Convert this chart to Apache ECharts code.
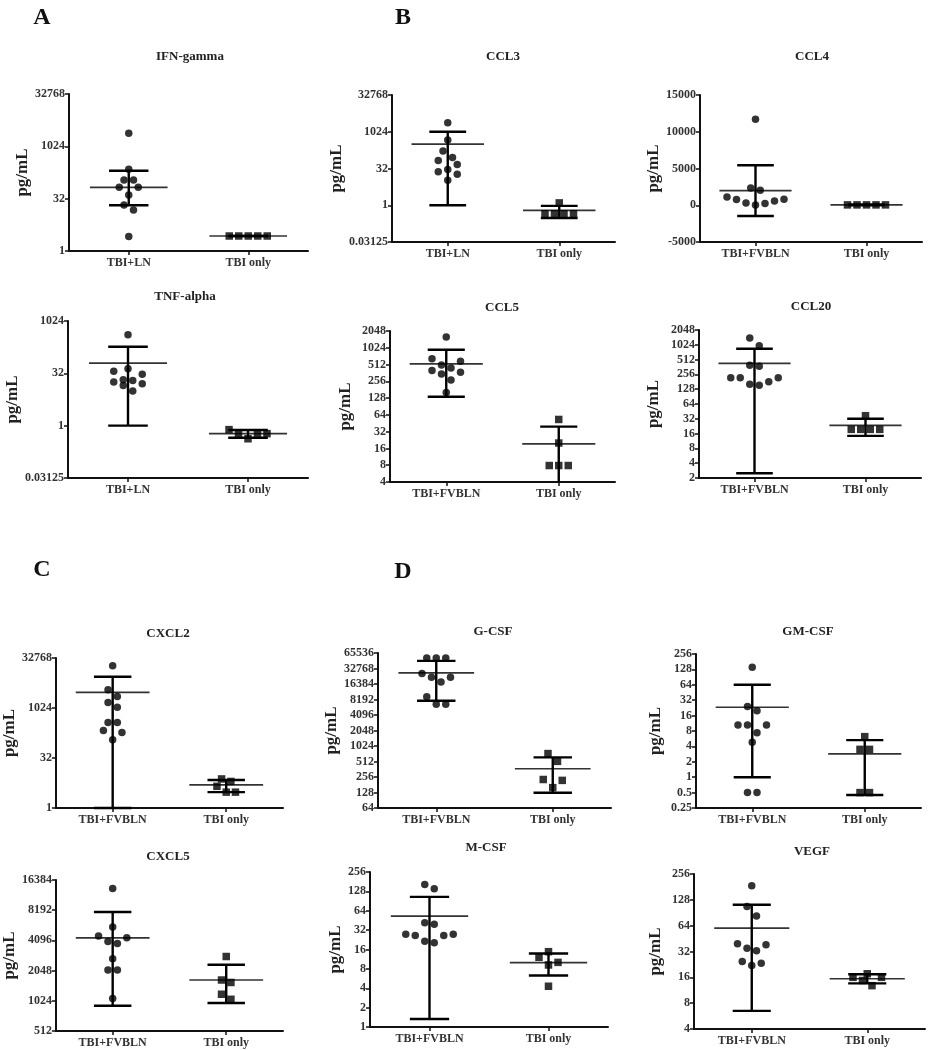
<!DOCTYPE html>
<html>
<head>
<meta charset="utf-8">
<script src="https://cdn.jsdelivr.net/npm/echarts@6/dist/echarts.min.js"></script>
<style>
  html, body { margin: 0; padding: 0; background: #fff; }
  #main { width: 931px; height: 1050px; }
</style>
</head>
<body>
<div id="main"></div>
<script>
// group names
const groupLN = 'TBI+LN';
const groupFV = 'TBI+FVBLN';
const groupTBI = 'TBI only';

// values, pg/mL ; bars = [mean, lower, upper] per group
const ifnLN = [2420, 223, 110, 110, 68, 68, 41, 21, 15, 2.6];
const ifnTBI = [2.7, 2.7, 2.7, 2.7, 2.7];
const ifnBars = [[68, 20.6, 204], [2.7, 2.7, 2.7]];
const ifnTicks = [1, 32, 1024, 32768];

const tnfLN = [413, 43, 37, 30, 21, 20, 18, 16, 14.4, 9.9];
const tnfTBI = [0.77, 0.59, 0.59, 0.59, 0.42];
const tnfBars = [[63, 1, 187], [0.59, 0.45, 0.75]];
const tnfTicks = [0.03125, 1, 32, 1024];

const ccl3LN = [2400, 467, 165, 91, 68, 47, 29, 23.4, 18.7, 10.6];
const ccl3TBI = [1.25, 0.45, 0.45, 0.45, 0.45];
const ccl3Bars = [[320, 1, 1024], [0.62, 0.3, 0.94]];
const ccl3Ticks = [0.03125, 1, 32, 1024, 32768];

const ccl4FV = [11700, 2360, 2050, 1130, 780, 590, 820, 320, 250, 50];
const ccl4TBI = [50, 50, 50, 50, 50];
const ccl4Bars = [[2000, -1460, 5450], [50, 0, 100]];
const ccl4Ticks = [-5000, 0, 5000, 10000, 15000];

const ccl5FV = [1595, 648, 588, 505, 446, 400, 372, 347, 271, 162];
const ccl5TBI = [53, 20, 7.9, 7.9, 7.9];
const ccl5Bars = [[525, 135, 942], [19.4, -0.2, 39.4]];
const ccl5Ticks = [4, 8, 16, 32, 64, 128, 256, 512, 1024, 2048];

const ccl20FV = [1400, 977, 393, 375, 219, 219, 219, 182, 161, 154];
const ccl20TBI = [37, 19.5, 19.5, 19.5, 19.5];
const ccl20Bars = [[431, 2.5, 850], [23.5, 14.4, 32]];
const ccl20Ticks = [2, 4, 8, 16, 32, 64, 128, 256, 512, 1024, 2048];

const cxcl2FV = [19200, 3640, 2290, 1510, 1070, 377, 377, 217, 189, 114];
const cxcl2TBI = [7.5, 6.3, 4.5, 3.0, 3.0];
const cxcl2Bars = [[3020, 1, 8960], [5.0, 3.0, 7.0]];
const cxcl2Ticks = [1, 32, 1024, 32768];

const cxcl5FV = [13500, 5560, 4520, 4350, 4000, 3820, 2690, 2080, 2080, 1080];
const cxcl5TBI = [2830, 1650, 1560, 1190, 1060];
const cxcl5Bars = [[4350, 913, 7870], [1650, 975, 2340]];
const cxcl5Ticks = [512, 1024, 2048, 4096, 8192, 16384];

const gcsfFV = [52400, 52400, 52400, 26200, 22200, 22200, 18000, 9300, 6600, 6600];
const gcsfTBI = [730, 515, 229, 220, 159];
const gcsfBars = [[27000, 7750, 46000], [370, 127, 617]];
const gcsfTicks = [64, 128, 256, 512, 1024, 2048, 4096, 8192, 16384, 32768, 65536];

const gmcsfFV = [141, 24, 19.8, 10.5, 10.5, 10.5, 7.4, 4.8, 0.5, 0.5];
const gmcsfTBI = [6.2, 3.5, 3.5, 0.5, 0.5];
const gmcsfBars = [[23.3, 1, 64], [2.85, 0.45, 5.3]];
const gmcsfTicks = [0.25, 0.5, 1, 2, 4, 8, 16, 32, 64, 128, 256];

const mcsfFV = [163, 140, 41.6, 39.5, 27.5, 27.5, 26.5, 26.5, 21.4, 20.4];
const mcsfTBI = [14.8, 12.1, 10.1, 9.2, 4.3];
const mcsfBars = [[52.7, 1.33, 105], [10, 6.3, 13.9]];
const mcsfTicks = [1, 2, 4, 8, 16, 32, 64, 128, 256];

const vegfFV = [187, 107, 83, 39.4, 38.3, 35, 32.6, 24.5, 23.4, 22];
const vegfTBI = [17.6, 16, 16, 14.7, 12.8];
const vegfBars = [[60, 6.5, 112], [15.4, 13.6, 17.4]];
const vegfTicks = [4, 8, 16, 32, 64, 128, 256];

const panels = [
  { title: 'IFN-gamma', g1: groupLN, a: ifnLN, b: ifnTBI, bars: ifnBars, ticks: ifnTicks, log: true },
  { title: 'TNF-alpha', g1: groupLN, a: tnfLN, b: tnfTBI, bars: tnfBars, ticks: tnfTicks, log: true },
  { title: 'CCL3', g1: groupLN, a: ccl3LN, b: ccl3TBI, bars: ccl3Bars, ticks: ccl3Ticks, log: true },
  { title: 'CCL4', g1: groupFV, a: ccl4FV, b: ccl4TBI, bars: ccl4Bars, ticks: ccl4Ticks, log: false },
  { title: 'CCL5', g1: groupFV, a: ccl5FV, b: ccl5TBI, bars: ccl5Bars, ticks: ccl5Ticks, log: true },
  { title: 'CCL20', g1: groupFV, a: ccl20FV, b: ccl20TBI, bars: ccl20Bars, ticks: ccl20Ticks, log: true },
  { title: 'CXCL2', g1: groupFV, a: cxcl2FV, b: cxcl2TBI, bars: cxcl2Bars, ticks: cxcl2Ticks, log: true },
  { title: 'CXCL5', g1: groupFV, a: cxcl5FV, b: cxcl5TBI, bars: cxcl5Bars, ticks: cxcl5Ticks, log: true },
  { title: 'G-CSF', g1: groupFV, a: gcsfFV, b: gcsfTBI, bars: gcsfBars, ticks: gcsfTicks, log: true },
  { title: 'GM-CSF', g1: groupFV, a: gmcsfFV, b: gmcsfTBI, bars: gmcsfBars, ticks: gmcsfTicks, log: true },
  { title: 'M-CSF', g1: groupFV, a: mcsfFV, b: mcsfTBI, bars: mcsfBars, ticks: mcsfTicks, log: true },
  { title: 'VEGF', g1: groupFV, a: vegfFV, b: vegfTBI, bars: vegfBars, ticks: vegfTicks, log: true }
];

// left, top, width, height, title x, title y, y-name gap
const layout = [
  [69, 94, 239, 157, 190, 57, 27],
  [68, 321, 240, 157, 185, 297, 46],
  [392, 95, 223, 147, 503, 57, 32],
  [700, 95, 222, 147, 812, 57, 36],
  [390, 331, 225, 151, 502, 308, 36],
  [699, 330, 222, 148, 811, 307, 37],
  [50, 658, 233, 150, 168, 634, 29],
  [54, 880, 229, 151, 168, 857, 33],
  [378, 653, 233, 155, 493, 632, 30],
  [696, 654, 225, 154, 808, 632, 32],
  [370, 872, 238, 155, 486, 848, 25],
  [694, 874, 231, 155, 812, 852, 30]
];

const letters = [['A', 42, 18], ['B', 403, 18], ['C', 42, 570], ['D', 403, 572]];

const FONT = '"Liberation Serif", "Times New Roman", serif';
const SYM = 7.5;    // marker size px
const SLOT = 9.5;   // horizontal spacing between side-by-side markers
const ROW_H = 9.5;  // markers closer than this (vertically) share a row
const MEAN_HALF = 0.65;  // in x units (4 units across the axis)
const CAP_HALF = 0.33;

// place points of one group in rows, spreading them sideways like a dot plot
function swarm(vals, toPx, center, unitPx) {
  const idx = vals.map((v, i) => i).sort((p, q) => vals[p] - vals[q]);
  const rows = [];
  idx.forEach(i => {
    const p = toPx(vals[i]);
    const row = rows[rows.length - 1];
    if (row && p - row.start <= ROW_H) row.items.push(i);
    else rows.push({ start: p, items: [i] });
  });
  const out = [];
  rows.forEach(r => {
    const n = r.items.length;
    r.items.forEach((i, k) => {
      let slot;
      if (n % 2) slot = Math.ceil(k / 2) * (k % 2 ? 1 : -1);
      else slot = (Math.floor(k / 2) + 0.5) * (k % 2 ? -1 : 1);
      out.push([center + slot * SLOT / unitPx, vals[i]]);
    });
  });
  return out;
}

const grid = [], xAxis = [], yAxis = [], series = [], graphic = [];

panels.forEach((p, i) => {
  const [left, top, width, height, tx, ty, gap] = layout[i];
  const ymin = p.ticks[0], ymax = p.ticks[p.ticks.length - 1];
  grid.push({ left, top, width, height });

  xAxis.push({
    gridIndex: i, type: 'value', min: 0, max: 4,
    axisLine: { onZero: false, lineStyle: { color: '#111', width: 2 } },
    axisTick: { customValues: [1, 3], length: 4, lineStyle: { color: '#111', width: 1.5 } },
    axisLabel: {
      customValues: [1, 3], margin: 6,
      formatter: v => (v < 2 ? p.g1 : groupTBI),
      fontFamily: FONT, fontWeight: 'bold', fontSize: 12, color: '#333'
    },
    splitLine: { show: false }
  });

  const y = {
    gridIndex: i, min: ymin, max: ymax,
    name: 'pg/mL', nameLocation: 'middle', nameGap: gap,
    nameTextStyle: { fontFamily: FONT, fontWeight: 'bold', fontSize: 17, color: '#222' },
    axisLine: { show: true, onZero: false, lineStyle: { color: '#111', width: 2 } },
    axisTick: { show: true, length: 4, lineStyle: { color: '#111', width: 1.5 } },
    axisLabel: {
      margin: 4, fontFamily: FONT, fontWeight: 'bold', fontSize: 12, color: '#333',
      formatter: v => String(v)
    },
    splitLine: { show: false }
  };
  if (p.log) {
    y.type = 'log';
    y.logBase = 2;
    y.axisTick.customValues = p.ticks;
    y.axisLabel.customValues = p.ticks;
  } else {
    y.type = 'value';
    y.interval = p.ticks[1] - p.ticks[0];
  }
  yAxis.push(y);

  const lmin = Math.log2(ymin), lmax = Math.log2(ymax);
  const toPx = p.log
    ? v => (Math.log2(v) - lmin) / (lmax - lmin) * height
    : v => (v - ymin) / (ymax - ymin) * height;
  const unitPx = width / 4;

  series.push({
    type: 'custom', xAxisIndex: i, yAxisIndex: i, z: 2, silent: true,
    data: [[1].concat(p.bars[0]), [3].concat(p.bars[1])],
    renderItem: (params, api) => {
      const cs = params.coordSys;
      const bottom = cs.y + cs.height;
      const x = api.value(0);
      const pm = api.coord([x, api.value(1)]);
      const cx = pm[0];
      const lo = api.value(2), hi = api.value(3);
      let pl = (!p.log || lo > 0) ? api.coord([x, lo])[1] : NaN;
      let capLo = true;
      if (!(pl <= bottom)) { pl = bottom; capLo = false; }
      const ph = api.coord([x, hi])[1];
      const mh = MEAN_HALF * cs.width / 4, ch = CAP_HALF * cs.width / 4;
      const bar = { stroke: '#000', lineWidth: 2.4 };
      const kids = [
        { type: 'line', shape: { x1: cx - mh, y1: pm[1], x2: cx + mh, y2: pm[1] }, style: { stroke: '#333', lineWidth: 1.7 } },
        { type: 'line', shape: { x1: cx, y1: pl, x2: cx, y2: ph }, style: bar },
        { type: 'line', shape: { x1: cx - ch, y1: ph, x2: cx + ch, y2: ph }, style: bar }
      ];
      if (capLo) kids.push({ type: 'line', shape: { x1: cx - ch, y1: pl, x2: cx + ch, y2: pl }, style: bar });
      return { type: 'group', children: kids };
    }
  });

  series.push({
    type: 'scatter', xAxisIndex: i, yAxisIndex: i, z: 3, silent: true,
    symbol: 'circle', symbolSize: SYM, itemStyle: { color: '#000' },
    data: swarm(p.a, toPx, 1, unitPx)
  });
  series.push({
    type: 'scatter', xAxisIndex: i, yAxisIndex: i, z: 3, silent: true,
    symbol: 'rect', symbolSize: SYM, itemStyle: { color: '#000' },
    data: swarm(p.b, toPx, 3, unitPx)
  });

  graphic.push({
    type: 'text', x: tx, y: ty,
    style: { text: p.title, font: 'bold 13px ' + FONT, fill: '#222', textAlign: 'center', textVerticalAlign: 'middle' }
  });
});

letters.forEach(([t, x, y]) => {
  graphic.push({
    type: 'text', x, y,
    style: { text: t, font: 'bold 24px ' + FONT, fill: '#111', textAlign: 'center', textVerticalAlign: 'middle' }
  });
});

const chart = echarts.init(document.getElementById('main'), null, { renderer: 'canvas' });
chart.setOption({
  animation: false,
  backgroundColor: '#fff',
  grid, xAxis, yAxis, series, graphic
});
window.addEventListener('resize', () => chart.resize());
</script>
</body>
</html>
